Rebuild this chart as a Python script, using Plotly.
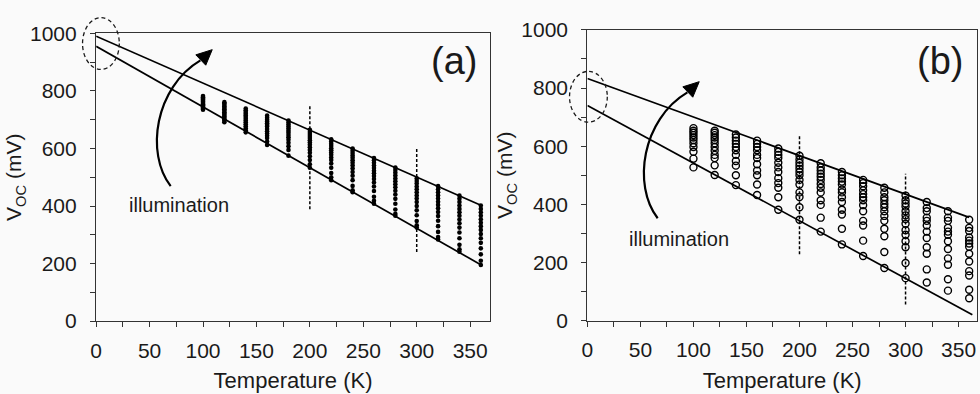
import plotly.graph_objects as go

# ---------------- data ----------------
temps = [100, 120, 140, 160, 180, 200, 220, 240, 260, 280, 300, 320, 340, 360]

# (a) Voc (mV) measured at each temperature, one list per temperature
voc_a = [
    [782, 778, 774, 770, 766, 762, 758, 754, 750, 746, 742, 738, 735],
    [761, 756, 751, 746, 741, 736, 731, 726, 721, 716, 711, 706, 701, 696, 691],
    [739, 733, 727, 721, 715, 709, 703, 697, 691, 684, 677, 670, 663, 656],
    [714, 707, 700, 694, 688, 682, 676, 668, 660, 652, 644, 636, 624, 612],
    [697, 690, 683, 676, 669, 662, 655, 647, 639, 630, 620, 608, 595, 575],
    [665, 657, 650, 643, 636, 629, 621, 613, 604, 595, 585, 573, 560, 545, 533],
    [632, 624, 616, 609, 601, 594, 586, 578, 569, 560, 548, 533, 515, 500, 490],
    [600, 592, 584, 576, 568, 559, 550, 541, 530, 518, 505, 490, 470, 455, 448],
    [567, 559, 550, 541, 532, 523, 514, 504, 494, 482, 468, 452, 432, 418, 408],
    [534, 525, 516, 506, 496, 486, 476, 465, 453, 440, 425, 408, 388, 373, 366],
    [496, 487, 478, 468, 458, 448, 437, 426, 414, 400, 385, 368, 348, 333, 325],
    [469, 458, 448, 437, 426, 415, 404, 392, 379, 365, 349, 330, 310, 292, 284],
    [436, 425, 414, 402, 390, 378, 366, 353, 340, 325, 308, 288, 265, 250, 241],
    [402, 390, 378, 366, 354, 342, 330, 317, 303, 288, 272, 253, 232, 210, 195],
]

# (b) Voc (mV) measured at each temperature, one list per temperature
voc_b = [
    [662, 653, 646, 638, 630, 621, 610, 597, 581, 557, 527],
    [653, 646, 638, 630, 621, 610, 597, 584, 570, 559, 534, 501],
    [640, 630, 619, 608, 597, 586, 570, 549, 533, 500, 466],
    [619, 608, 597, 586, 570, 559, 538, 516, 500, 468, 432],
    [592, 581, 570, 559, 543, 527, 511, 490, 473, 457, 424, 381],
    [567, 554, 543, 533, 522, 511, 500, 484, 468, 441, 425, 390, 347],
    [541, 527, 516, 505, 495, 484, 470, 457, 441, 414, 398, 354, 306],
    [511, 500, 489, 478, 468, 451, 441, 424, 408, 381, 365, 316, 262],
    [484, 473, 462, 448, 435, 424, 414, 397, 376, 343, 327, 275, 222],
    [457, 441, 424, 414, 401, 390, 376, 360, 343, 316, 290, 236, 181],
    [430, 414, 403, 392, 376, 362, 349, 333, 311, 295, 273, 252, 198, 146],
    [408, 387, 376, 354, 343, 327, 306, 284, 252, 230, 176, 131],
    [376, 354, 343, 319, 306, 295, 273, 246, 214, 192, 142, 103],
    [347, 319, 308, 286, 275, 265, 254, 230, 203, 170, 155, 106, 77],
]

# linear fits bounding each data set (T in K, Voc in mV)
fit_T_a = [0, 360]
fit_a_high = [990, 403]
fit_a_low = [955, 196]
fit_T_b_high = [0, 360]
fit_b_high = [833, 355]
fit_T_b_low = [0, 363]
fit_b_low = [740, 20]

# reference temperatures marked by dashed vertical lines
mark_T = [200, 300]
mark_a_low = [389, 240]
mark_a_high = [749, 605]
mark_b_low = [228, 55]
mark_b_high = [635, 505]

x_ticks = [0, 50, 100, 150, 200, 250, 300, 350]
y_ticks = [0, 200, 400, 600, 800, 1000]

# ---------------- figure ----------------
W, H = 980, 394
BG = "#fafafa"
INK = "#1a1a1a"
FONT = "Liberation Sans, Arial, sans-serif"


def paper(px, py):
    return px / W, 1 - py / H


def flat(cols):
    xs, ys = [], []
    for t, col in zip(temps, cols):
        xs += [t] * len(col)
        ys += col
    return xs, ys


fig = go.Figure()

xa, ya = flat(voc_a)
fig.add_trace(go.Scatter(x=xa, y=ya, mode="markers", xaxis="x", yaxis="y",
                         marker=dict(symbol="circle", size=4.6, color="black"),
                         showlegend=False))
xb, yb = flat(voc_b)
fig.add_trace(go.Scatter(x=xb, y=yb, mode="markers", xaxis="x2", yaxis="y2",
                         marker=dict(symbol="circle-open", size=7, color="black",
                                     line=dict(width=1.4, color="black")),
                         showlegend=False))

for xs, ys, xr, yr in [(fit_T_a, fit_a_high, "x", "y"), (fit_T_a, fit_a_low, "x", "y"),
                       (fit_T_b_high, fit_b_high, "x2", "y2"),
                       (fit_T_b_low, fit_b_low, "x2", "y2")]:
    fig.add_trace(go.Scatter(x=xs, y=ys, mode="lines", xaxis=xr, yaxis=yr,
                             line=dict(color="black", width=1.7), showlegend=False))

shapes = []
for t, lo, hi in zip(mark_T, mark_a_low, mark_a_high):
    shapes.append(dict(type="line", xref="x", yref="y", x0=t, x1=t, y0=lo, y1=hi,
                       line=dict(color="black", width=1.5, dash="3px,2px")))
for t, lo, hi in zip(mark_T, mark_b_low, mark_b_high):
    shapes.append(dict(type="line", xref="x2", yref="y2", x0=t, x1=t, y0=lo, y1=hi,
                       line=dict(color="black", width=1.5, dash="3px,2px")))

# dashed ellipses around the intercepts
for (ex0, ey0, ex1, ey1) in [(77, 6, 114, 61), (567, 63, 605, 117)]:
    a0 = paper(ex0, ey1)
    a1 = paper(ex1, ey0)
    shapes.append(dict(type="circle", xref="paper", yref="paper",
                       x0=a0[0], y0=a0[1], x1=a1[0], y1=a1[1],
                       line=dict(color=INK, width=1.3, dash="4px,3px")))


# curved "illumination" arrows
def arrow(dx, dy):
    pts = [(165.7, 185), (140, 150), (150, 80), (195.6, 51.4)]
    p = [paper(x + dx, y + dy) for x, y in pts]
    curve = "M {},{} C {},{} {},{} {},{}".format(*[v for q in p for v in q])
    head = [(207.5, 40), (201.0, 56.5), (191.0, 45.5)]
    h = [paper(x + dx, y + dy) for x, y in head]
    tri = "M {},{} L {},{} L {},{} Z".format(*[v for q in h for v in q])
    return [dict(type="path", xref="paper", yref="paper", path=curve,
                 line=dict(color="black", width=2.2)),
            dict(type="path", xref="paper", yref="paper", path=tri,
                 fillcolor="black", line=dict(color="black", width=1))]


shapes += arrow(0, 0)
shapes += arrow(490, 34)

annotations = []
for txt, cx, cy in [("illumination", 174.3, 205), ("illumination", 676.8, 240.7)]:
    px_, py_ = paper(cx, cy)
    annotations.append(dict(text=txt, x=px_, y=py_, xref="paper", yref="paper",
                            xanchor="center", yanchor="middle", showarrow=False,
                            font=dict(size=20, color=INK, family=FONT)))
for txt, cx, cy in [("(a)", 450.5, 52), ("(b)", 940, 52)]:
    px_, py_ = paper(cx, cy)
    annotations.append(dict(text=txt, x=px_, y=py_, xref="paper", yref="paper",
                            xanchor="center", yanchor="middle", showarrow=False,
                            font=dict(size=38, color=INK, family=FONT)))

axis_common = dict(showline=True, linecolor="#333", linewidth=1.4, mirror=True,
                   ticks="outside", ticklen=5, tickcolor="#333", tickwidth=1,
                   showgrid=False, zeroline=False,
                   tickfont=dict(size=21, color=INK, family=FONT))


def xaxis(domain, rng, anchor):
    return dict(axis_common, domain=domain, range=rng, anchor=anchor,
                tickvals=x_ticks, ticklabelstandoff=5,
                minor=dict(dtick=25, tick0=0, ticks="outside",
                           ticklen=5, tickcolor="#333"),
                title=dict(text="Temperature (K)", standoff=12,
                           font=dict(size=22, color=INK, family=FONT)))


def yaxis(domain, anchor):
    return dict(axis_common, domain=domain, range=[0, 1000], anchor=anchor,
                tickvals=y_ticks, ticklabelstandoff=9,
                minor=dict(dtick=100, tick0=0, ticks="outside",
                           ticklen=5, tickcolor="#333"),
                title=dict(text="V<sub>OC</sub> (mV)", standoff=2,
                           font=dict(size=21, color=INK, family=FONT)))


fig.update_layout(
    width=W, height=H,
    margin=dict(l=0, r=0, t=0, b=0),
    paper_bgcolor=BG, plot_bgcolor=BG,
    xaxis=xaxis([90.7 / W, 487 / W], [0, 368.6], "y"),
    yaxis=yaxis([(H - 328.3) / H, (H - 22.7) / H], "x"),
    xaxis2=xaxis([585 / W, 977 / W], [0, 367.4], "y2"),
    yaxis2=yaxis([(H - 327.7) / H, (H - 19) / H], "x2"),
    shapes=shapes,
    annotations=annotations,
)

fig.write_html("out.html")
